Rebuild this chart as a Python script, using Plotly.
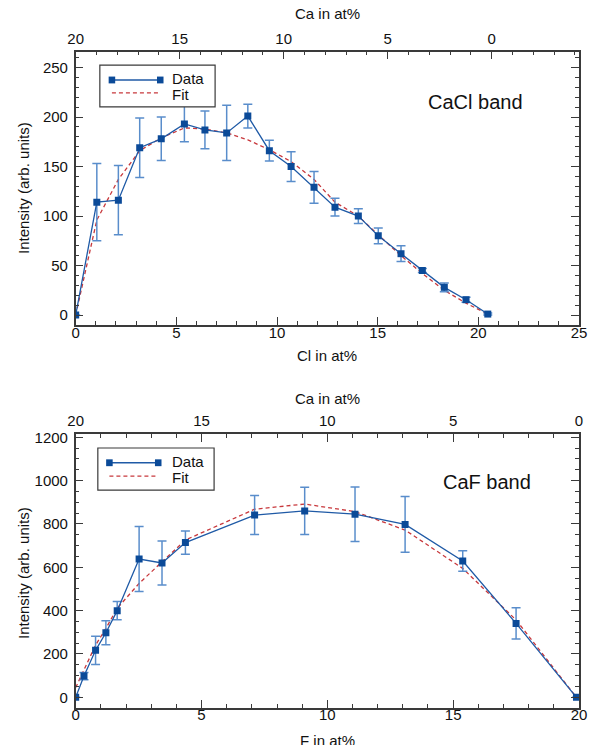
import plotly.graph_objects as go

# ---------------- data: CaCl band (top panel) ----------------
cl_at = [0, 1.05, 2.12, 3.18, 4.25, 5.40, 6.42, 7.50, 8.55, 9.62,
         10.70, 11.84, 12.88, 14.04, 15.03, 16.16, 17.22, 18.31, 19.39, 20.47]
cacl_int = [0, 114, 116, 169, 178, 193, 187, 184, 201, 166,
            150, 129, 109, 100, 80, 62, 45, 28, 15.5, 1]
cacl_err = [0, 39, 35, 30, 22, 18, 19, 28, 12, 10.5,
            15, 16, 9, 7.5, 8, 8, 2, 4.5, 2.5, 1]
cacl_fit = [0, 96, 137, 166, 179, 189, 188, 184, 177, 167,
            155, 137, 114, 100, 81, 60, 42, 25, 12, 1]

# ---------------- data: CaF band (bottom panel) ----------------
f_at = [0, 0.33, 0.79, 1.20, 1.65, 2.52, 3.43, 4.36, 7.11, 9.10,
        11.10, 13.09, 15.38, 17.50, 19.90]
caf_int = [0, 98, 217, 298, 400, 638, 620, 714, 841, 860,
           845, 798, 629, 341, 0]
caf_err = [0, 17, 65, 55, 42, 150, 102, 54, 90, 109,
           126, 129, 47, 72, 0]
caf_fit = [45, 125, 241, 318, 411, 526, 626, 726, 868, 892,
           857, 772, 595, 357, 0]

# axis ticks
cl_ticks = [0, 5, 10, 15, 20, 25]
f_ticks = [0, 5, 10, 15, 20]
ca_ticks = [20, 15, 10, 5, 0]
y1_ticks = [0, 50, 100, 150, 200, 250]
y2_ticks = [0, 200, 400, 600, 800, 1000, 1200]

FONT = "Liberation Sans, Arial, Helvetica, sans-serif"
AX = "#3a3a3a"
DATA_LINE = "#1f5aa6"
DATA_MK = "#0b4a98"
ERR = "rgba(80,135,200,0.95)"
FIT = "#c8383c"

fig = go.Figure()

def add_panel(x, y, err, fit, xa, ya, xa_top):
    fig.add_trace(go.Scatter(
        x=x, y=fit, mode="lines", xaxis=xa, yaxis=ya, showlegend=False,
        line=dict(color=FIT, width=1.3, dash="4px,3px"), hoverinfo="skip"))
    fig.add_trace(go.Scatter(
        x=x, y=y, mode="lines+markers", xaxis=xa, yaxis=ya, showlegend=False,
        line=dict(color=DATA_LINE, width=1.3),
        marker=dict(symbol="square", size=7, color=DATA_MK),
        error_y=dict(type="data", array=err, visible=True, color=ERR,
                     thickness=1.5, width=4.5)))
    # empty trace so that the secondary (Ca) axis gets drawn
    fig.add_trace(go.Scatter(
        x=ca_ticks, y=[None] * len(ca_ticks), mode="lines", xaxis=xa_top, yaxis=ya,
        showlegend=False, hoverinfo="skip"))

add_panel(cl_at, cacl_int, cacl_err, cacl_fit, "x", "y", "x2")
add_panel(f_at, caf_int, caf_err, caf_fit, "x3", "y2", "x4")

XD = [0.1285, 0.9830]
Y1D = [0.5638, 0.9306]
Y2D = [0.0503, 0.4174]

tickfont = dict(family=FONT, size=15, color="#111")

def xax(rng, ticks, anchor, side="bottom", overlay=None):
    d = dict(range=rng, tickvals=ticks, ticks="inside", ticklen=8, tickwidth=1.2,
             tickcolor=AX, showline=True, linecolor=AX, linewidth=1.5,
             showgrid=False, zeroline=False, tickfont=tickfont, side=side,
             anchor=anchor, automargin=False,
             ticklabelstandoff=(0 if side == "top" else -7),
             minor=dict(dtick=1, ticks="inside", ticklen=4, tickcolor=AX, tickwidth=1.1))
    if overlay:
        d["overlaying"] = overlay
    else:
        d["domain"] = XD
    return d

def yax(rng, ticks, dom, anchor, mdt):
    return dict(range=rng, tickvals=ticks, ticks="inside", ticklen=8, tickwidth=1.2,
                tickcolor=AX, showline=True, linecolor=AX, linewidth=1.5,
                mirror="ticks", showgrid=False, zeroline=False, tickfont=tickfont,
                domain=dom, anchor=anchor, automargin=False, ticklabelstandoff=3,
                minor=dict(dtick=mdt, ticks="inside", ticklen=4, tickcolor=AX, tickwidth=1.1))

fig.update_layout(
    width=589, height=745,
    margin=dict(l=0, r=0, t=0, b=0),
    paper_bgcolor="white", plot_bgcolor="white",
    font=dict(family=FONT, size=15, color="#111"),
    showlegend=False,
    xaxis=xax([0, 25], cl_ticks, "y"),
    xaxis2=xax([20, -4.2], ca_ticks, "y", side="top", overlay="x"),
    xaxis3=xax([0, 20], f_ticks, "y2"),
    xaxis4=xax([20, 0], ca_ticks, "y2", side="top", overlay="x3"),
    yaxis=yax([-10, 266], y1_ticks, Y1D, "x", 10),
    yaxis2=yax([-47, 1215], y2_ticks, Y2D, "x3", 50),
)

shapes = []
annotations = []

def legend(xa, ya, lx0, lx1, ly_data, ly_fit, box):
    xr, yr = xa + " domain", ya + " domain"
    shapes.append(dict(type="rect", xref=xr, yref=yr, x0=box[0], x1=box[1], y0=box[2], y1=box[3],
                       line=dict(color=AX, width=1.2), fillcolor="white", layer="above"))
    shapes.append(dict(type="line", xref=xr, yref=yr, x0=lx0, x1=lx1, y0=ly_data, y1=ly_data,
                       line=dict(color=DATA_LINE, width=1.3), layer="above"))
    w, h = 0.0065, 0.0125
    for cx in (lx0, lx1):
        shapes.append(dict(type="rect", xref=xr, yref=yr, x0=cx - w, x1=cx + w,
                           y0=ly_data - h, y1=ly_data + h,
                           line=dict(width=0), fillcolor=DATA_MK, layer="above"))
    shapes.append(dict(type="line", xref=xr, yref=yr, x0=lx0, x1=lx1, y0=ly_fit, y1=ly_fit,
                       line=dict(color=FIT, width=1.3, dash="4px,3px"), layer="above"))
    for txt, yy in (("Data", ly_data + 0.004), ("Fit", ly_fit - 0.004)):
        annotations.append(dict(text=txt, xref=xr, yref=yr, x=0.188, y=yy,
                                xanchor="left", yanchor="middle", showarrow=False,
                                font=dict(family=FONT, size=15, color="#111")))

legend("x", "y", 0.072, 0.168, 0.8965, 0.849, (0.048, 0.277, 0.798, 0.951))
legend("x3", "y2", 0.067, 0.164, 0.895, 0.846, (0.044, 0.275, 0.795, 0.949))

def label(text, x, y, xref="paper", yref="paper", size=15, angle=0):
    annotations.append(dict(text=text, xref=xref, yref=yref, x=x, y=y,
                            xanchor="center", yanchor="middle", textangle=angle,
                            showarrow=False, font=dict(family=FONT, size=size, color="#111")))

label("CaCl band", 0.795, 0.816, "x domain", "y domain", size=20)
label("CaF band", 0.8166, 0.826, "x3 domain", "y2 domain", size=20)
label("Intensity (arb. units)", 23 / 589, 1 - 188 / 745, angle=-90)
label("Intensity (arb. units)", 23 / 589, 1 - 573 / 745, angle=-90)
label("Cl in at%", 327 / 589, 1 - 355 / 745)
label("F in at%", 327 / 589, 1 - 740 / 745)
label("Ca in at%", 327 / 589, 1 - 14 / 745)
label("Ca in at%", 327 / 589, 1 - 398 / 745)

fig.update_layout(shapes=shapes, annotations=annotations)
fig.write_html(
    "out.html",
    config={"displayModeBar": False},
    post_script="document.body.style.margin='0';document.body.style.overflow='hidden';",
)
